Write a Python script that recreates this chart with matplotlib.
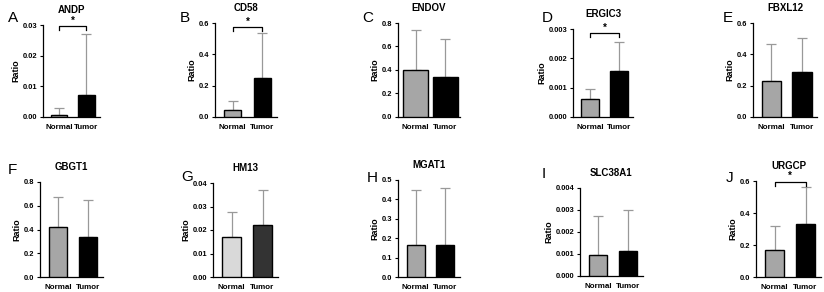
import matplotlib
matplotlib.use("Agg")
import matplotlib.pyplot as plt

plt.rcParams['font.family'] = ['Liberation Sans', 'DejaVu Sans']

# ---- data ----
genes = ["ANDP", "CD58", "ENDOV", "ERGIC3", "FBXL12",
         "GBGT1", "HM13", "MGAT1", "SLC38A1", "URGCP"]
letters = ["A", "B", "C", "D", "E", "F", "G", "H", "I", "J"]
groups = ["Normal", "Tumor"]
normal_mean = [0.00078, 0.043, 0.40, 0.00061, 0.232, 0.42, 0.0172, 0.167, 0.00095, 0.167]
normal_err_top = [0.0029, 0.104, 0.744, 0.00096, 0.469, 0.675, 0.0277, 0.450, 0.00272, 0.318]
tumor_mean = [0.0073, 0.252, 0.344, 0.00158, 0.285, 0.335, 0.0221, 0.164, 0.00113, 0.330]
tumor_err_top = [0.0272, 0.535, 0.668, 0.00254, 0.507, 0.645, 0.0371, 0.458, 0.00298, 0.565]
ymax = [0.03, 0.6, 0.8, 0.003, 0.6, 0.8, 0.04, 0.5, 0.004, 0.6]
ystep = [0.01, 0.2, 0.2, 0.001, 0.2, 0.2, 0.01, 0.1, 0.001, 0.2]
tick_fmt = ["{:.2f}", "{:.1f}", "{:.1f}", "{:.3f}", "{:.1f}",
            "{:.1f}", "{:.2f}", "{:.1f}", "{:.3f}", "{:.1f}"]
significant = [True, True, False, True, False, False, False, False, False, True]
bracket_y = [0.0296, 0.574, None, 0.00285, None, None, None, None, None, 0.594]

# ---- layout in pixels: (spine x, right x, top y, zero y) ----
W, H = 824, 292
boxes = [(43, 100, 25, 117), (215, 277, 23, 117), (398, 460, 23, 117),
         (573, 633, 29, 117), (753, 817, 23, 117),
         (40, 103, 182, 277), (213, 278, 183, 277), (398, 460, 180, 277),
         (580, 643, 188, 276), (756, 821, 181, 277)]
letter_pos = [(8, 18), (180, 18), (362, 18), (542, 18), (723, 18),
              (8, 170), (181, 177), (367, 178), (542, 174), (726, 178)]
bar_w = [0.6, 0.58, 0.85, 0.62, 0.64, 0.58, 0.62, 0.6, 0.58, 0.6]
colors = [["#a6a6a6", "#000000"]] * 6 + [["#d9d9d9", "#333333"]] + [["#a6a6a6", "#000000"]] * 3

fig = plt.figure(figsize=(W / 100, H / 100), dpi=100)
fig.patch.set_facecolor("white")

for i, g in enumerate(genes):
    x0, x1, yt, yb = boxes[i]
    ax = fig.add_axes([x0 / W, 1 - yb / H, (x1 - x0) / W, (yb - yt) / H])
    xs = [0, 1]
    means = [normal_mean[i], tumor_mean[i]]
    tops = [normal_err_top[i], tumor_err_top[i]]
    ax.bar(xs, means, width=bar_w[i], color=colors[i], edgecolor="black",
           linewidth=1.0, zorder=3)
    errs = [[0, 0], [t - m for t, m in zip(tops, means)]]
    ax.errorbar(xs, means, yerr=errs, fmt="none", ecolor="#999999",
                elinewidth=0.9, capsize=3.5, capthick=0.9, zorder=2)
    ax.set_xlim(-0.6, 1.5)
    ax.set_ylim(0, ymax[i])
    n = int(round(ymax[i] / ystep[i]))
    ticks = [k * ystep[i] for k in range(n + 1)]
    ax.set_yticks(ticks)
    ax.set_yticklabels([tick_fmt[i].format(t) for t in ticks],
                       fontsize=5.4, fontweight="bold")
    ax.set_xticks(xs)
    ax.set_xticklabels(groups, fontsize=5.8, fontweight="bold")
    ax.tick_params(axis="x", length=0, pad=5)
    ax.tick_params(axis="y", length=2.5, width=0.8, pad=1.5)
    for s in ["top", "right"]:
        ax.spines[s].set_visible(False)
    for s in ["left", "bottom"]:
        ax.spines[s].set_linewidth(0.9)
    ax.set_ylabel("Ratio", fontsize=6.5, fontweight="bold", labelpad=2)
    ax.patch.set_alpha(0)

    if significant[i]:
        by = bracket_y[i]
        d = ymax[i] * 0.04
        ax.plot([0, 0, 1, 1], [by - d, by, by, by - d], color="black",
                lw=0.9, clip_on=False, zorder=4)
        ax.annotate("*", xy=(0.5, by), xytext=(0, 0.5), textcoords="offset points",
                    ha="center", va="bottom", fontsize=7, fontweight="bold",
                    annotation_clip=False)
    ax.set_title(g, fontsize=7, fontweight="bold", pad=8.5)

    lx, ly = letter_pos[i]
    fig.text(lx / W, 1 - ly / H, letters[i], fontsize=11, ha="left", va="center")

fig.savefig("out.png", dpi=100, facecolor="white")
